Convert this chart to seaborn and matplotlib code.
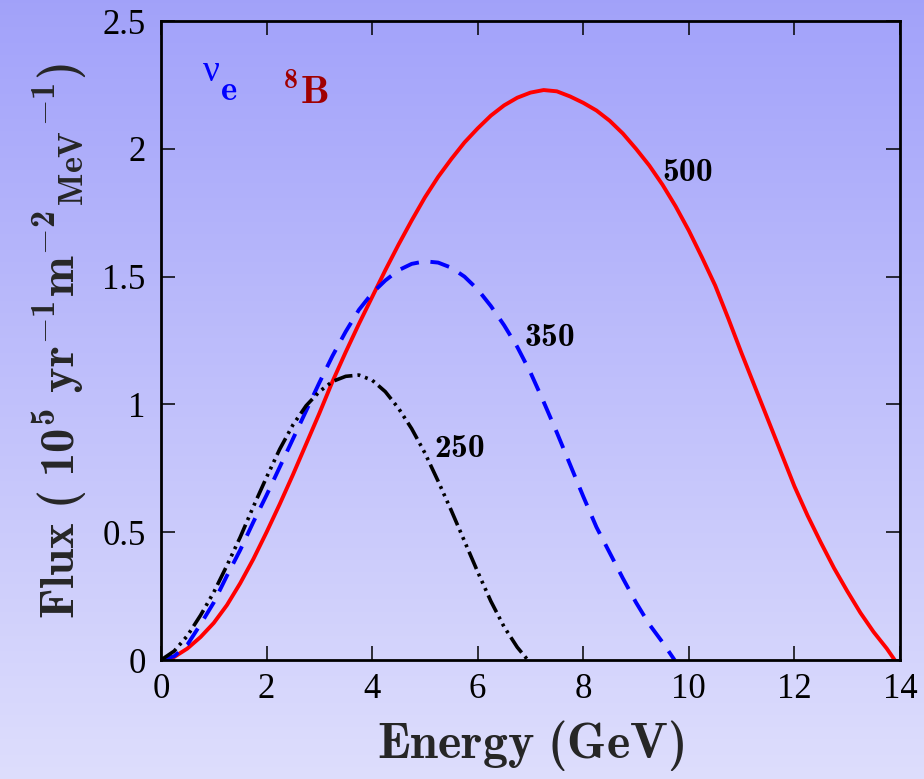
import numpy as np
import pandas as pd
import matplotlib
matplotlib.use("Agg")
import matplotlib.pyplot as plt
import seaborn as sns
from matplotlib.colors import LinearSegmentedColormap

# ---- data ----
red_E = [0, 0.25, 0.5, 0.75, 1, 1.25, 1.5, 1.75, 2, 2.25, 2.5, 2.75, 3, 3.25, 3.5, 3.75, 4, 4.25,
         4.5, 4.75, 5, 5.25, 5.5, 5.75, 6, 6.25, 6.5, 6.75, 7, 7.25, 7.5, 7.75, 8, 8.25, 8.5, 8.75,
         9, 9.25, 9.5, 9.75, 10, 10.25, 10.5, 10.75, 11, 11.25, 11.5, 11.75, 12, 12.25, 12.5,
         12.75, 13, 13.25, 13.5, 13.75, 13.9]
red_F = [0, 0.012, 0.045, 0.09, 0.145, 0.215, 0.30, 0.395, 0.50, 0.61, 0.725, 0.845, 0.965, 1.09,
         1.205, 1.315, 1.42, 1.525, 1.625, 1.72, 1.81, 1.89, 1.96, 2.025, 2.08, 2.13, 2.17, 2.20,
         2.22, 2.23, 2.225, 2.205, 2.18, 2.15, 2.11, 2.06, 2.00, 1.935, 1.86, 1.775, 1.68, 1.575,
         1.465, 1.335, 1.20, 1.07, 0.94, 0.81, 0.68, 0.565, 0.46, 0.36, 0.27, 0.185, 0.11, 0.045, 0]

blue_E = [0, 0.25, 0.5, 0.75, 1, 1.25, 1.5, 1.75, 2, 2.25, 2.5, 2.75, 3, 3.25, 3.5, 3.75, 4, 4.25,
          4.5, 4.75, 5, 5.25, 5.5, 5.75, 6, 6.25, 6.5, 6.75, 7, 7.25, 7.5, 7.75, 8, 8.25, 8.5,
          8.75, 9, 9.25, 9.5, 9.73]
blue_F = [0, 0.015, 0.06, 0.14, 0.225, 0.33, 0.43, 0.54, 0.645, 0.755, 0.865, 0.975, 1.085, 1.19,
          1.285, 1.37, 1.435, 1.485, 1.525, 1.55, 1.56, 1.555, 1.535, 1.50, 1.45, 1.385, 1.31,
          1.225, 1.125, 1.01, 0.89, 0.765, 0.64, 0.52, 0.42, 0.32, 0.225, 0.14, 0.07, 0]

black_E = [0, 0.25, 0.5, 0.75, 1, 1.25, 1.5, 1.75, 2, 2.25, 2.5, 2.75, 3, 3.25, 3.5, 3.75, 4,
           4.25, 4.5, 4.75, 5, 5.25, 5.5, 5.75, 6, 6.25, 6.5, 6.75, 6.95]
black_F = [0, 0.035, 0.095, 0.175, 0.265, 0.37, 0.48, 0.60, 0.715, 0.825, 0.92, 0.995, 1.05, 1.09,
           1.11, 1.115, 1.095, 1.05, 0.985, 0.905, 0.81, 0.70, 0.585, 0.465, 0.345, 0.23, 0.13,
           0.05, 0]

curve_labels = ["500", "350", "250"]
label_pos = [(9.5, 1.905), (6.87, 1.26), (5.17, 0.826)]

x_ticks = [0, 2, 4, 6, 8, 10, 12, 14]
y_ticks = [0, 0.5, 1, 1.5, 2, 2.5]
y_ticklabels = ["0", "0.5", "1", "1.5", "2", "2.5"]

# ---- style ----
sns.set_theme(style="ticks")
plt.rcParams["font.family"] = ["Liberation Serif", "DejaVu Serif"]
plt.rcParams["mathtext.fontset"] = "custom"
plt.rcParams["mathtext.rm"] = "cmb10"
plt.rcParams["mathtext.bf"] = "cmb10"
plt.rcParams["mathtext.it"] = "cmb10"
plt.rcParams["mathtext.fallback"] = "cm"

fig = plt.figure(figsize=(9.24, 7.79), dpi=100)

# gradient background
bg = fig.add_axes([0, 0, 1, 1], zorder=-10)
cmap = LinearSegmentedColormap.from_list("bg", [(0.635, 0.635, 0.98), (0.87, 0.87, 0.99)])
bg.imshow(np.linspace(0, 1, 256).reshape(-1, 1), aspect="auto", cmap=cmap,
          extent=[0, 1, 0, 1], origin="upper")
bg.set_axis_off()

ax = fig.add_axes([0.1742, 0.1527, 0.7998, 0.8203])
ax.set_facecolor("none")

df_red = pd.DataFrame({"E": red_E, "F": red_F})
df_blue = pd.DataFrame({"E": blue_E, "F": blue_F})
df_black = pd.DataFrame({"E": black_E, "F": black_F})

sns.lineplot(data=df_red, x="E", y="F", ax=ax, color="#ff0000", lw=2.8, estimator=None, sort=False)
sns.lineplot(data=df_blue, x="E", y="F", ax=ax, color="#0000ff", lw=2.8, estimator=None, sort=False)
sns.lineplot(data=df_black, x="E", y="F", ax=ax, color="black", lw=2.6, estimator=None, sort=False)
ax.lines[1].set_dashes((5.0, 3.0))
ax.lines[2].set_dashes((5.2, 1.4, 0.8, 1.4, 0.8, 1.4, 0.8, 1.4))

for lab, (x, y) in zip(curve_labels, label_pos):
    ax.text(x, y, r"$\mathbf{%s}$" % lab, fontsize=24, color="black", ha="left", va="center")

ax.text(0.8, 2.265, "ν", fontsize=27, color="#0000ff", ha="left", va="baseline")
ax.text(1.12, 2.19, r"$\mathbf{e}$", fontsize=25, color="#0000ff", ha="left", va="baseline")
ax.text(2.3, 2.175, r"$\mathbf{{}^8B}$", fontsize=29, color="#a00000", ha="left", va="baseline")

ax.set_xlim(0, 14)
ax.set_ylim(0, 2.5)
ax.set_xticks(x_ticks)
ax.set_xticklabels([str(t) for t in x_ticks])
ax.set_yticks(y_ticks)
ax.set_yticklabels(y_ticklabels)
ax.tick_params(direction="in", length=10, width=1.1, top=True, right=True,
               labelsize=25, colors="black")
ax.tick_params(axis="x", pad=9)
ax.tick_params(axis="y", pad=11)
for s in ax.spines.values():
    s.set_visible(True)
    s.set_linewidth(2.0)
    s.set_color("black")

ax.set_xlabel(r"$\mathbf{Energy\ (GeV)}$", fontsize=36, labelpad=9)
ax.set_ylabel(r"$\mathbf{Flux\ (\ 10^5\ yr^{-1}m^{-2}{}_{MeV}{}^{-1})}$", fontsize=35, labelpad=9)

fig.savefig("out.png", dpi=100)
